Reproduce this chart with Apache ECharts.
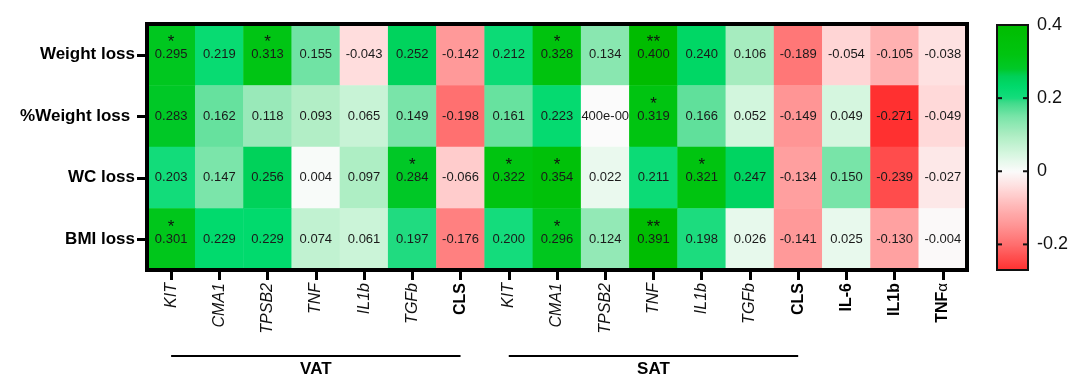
<!DOCTYPE html>
<html><head><meta charset="utf-8">
<script src="https://cdn.jsdelivr.net/npm/echarts@6/dist/echarts.min.js"></script>
<style>html,body{margin:0;padding:0;background:#fff}#c{width:1075px;height:376px}</style>
</head><body><div id="c"></div>
<script>
// ---------------- data ----------------
const rowLabels = ['Weight loss', '%Weight loss ', 'WC loss', 'BMI loss'];
const colLabels = ['KIT','CMA1','TPSB2','TNF','IL1b','TGFb','CLS','KIT','CMA1','TPSB2','TNF','IL1b','TGFb','CLS','IL-6','IL1b','TNFα'];
const colIsGene = [true,true,true,true,true,true,false,true,true,true,true,true,true,false,false,false,false];
const groups = [{ name: 'VAT', from: 0, to: 6 }, { name: 'SAT', from: 7, to: 13 }];

const weightLoss    = [0.295, 0.219, 0.313, 0.155, -0.043, 0.252, -0.142, 0.212, 0.328, 0.134, 0.400, 0.240, 0.106, -0.189, -0.054, -0.105, -0.038];
const pctWeightLoss = [0.283, 0.162, 0.118, 0.093, 0.065, 0.149, -0.198, 0.161, 0.223, 0.0004, 0.319, 0.166, 0.052, -0.149, 0.049, -0.271, -0.049];
const wcLoss        = [0.203, 0.147, 0.256, 0.004, 0.097, 0.284, -0.066, 0.322, 0.354, 0.022, 0.211, 0.321, 0.247, -0.134, 0.150, -0.239, -0.027];
const bmiLoss       = [0.301, 0.229, 0.229, 0.074, 0.061, 0.197, -0.176, 0.200, 0.296, 0.124, 0.391, 0.198, 0.026, -0.141, 0.025, -0.130, -0.004];

const weightLossSig    = ['*','','*','','','','','','*','','**','','','','','',''];
const pctWeightLossSig = ['','','','','','','','','','','*','','','','','',''];
const wcLossSig        = ['','','','','','*','','*','*','','','*','','','','',''];
const bmiLossSig       = ['*','','','','','','','','*','','**','','','','','',''];

const cellTextOverrides = { '1,9': '400e-00' };
const colorbarTicks = [-0.2, 0, 0.2, 0.4];
const colorMin = -0.27, colorMax = 0.4;

// ---------------- style / layout ----------------
const FONT = '"Liberation Sans", Arial, Helvetica, sans-serif';
const GRID = { left: 147, top: 24, width: 820, height: 246 };
const CBAR = { left: 997, top: 25, width: 31, height: 245 };

const colorStops = [
  [-0.27, '#ff3030'], [-0.2, '#ff6e6e'], [-0.15, '#ff9494'], [-0.1, '#ffb4b4'], [-0.05, '#ffd8d8'],
  [0, '#fbfbfb'], [0.05, '#d4f6de'], [0.1, '#acedc2'], [0.15, '#78e4a8'], [0.19, '#3cda88'],
  [0.2, '#14dc7c'], [0.23, '#00da6c'], [0.26, '#00d058'], [0.28, '#00c828'], [0.32, '#00c410'], [0.4, '#00bc00']
];
function hex2rgb(h) { return [1,3,5].map(i => parseInt(h.slice(i, i + 2), 16)); }
function colorAt(v) {
  if (v <= colorStops[0][0]) return colorStops[0][1];
  for (let i = 1; i < colorStops.length; i++) {
    if (v <= colorStops[i][0]) {
      const [v0, c0] = colorStops[i - 1], [v1, c1] = colorStops[i];
      const t = (v - v0) / (v1 - v0);
      const a = hex2rgb(c0), b = hex2rgb(c1);
      return 'rgb(' + a.map((x, k) => Math.round(x + (b[k] - x) * t)).join(',') + ')';
    }
  }
  return colorStops[colorStops.length - 1][1];
}
const N = 135;
const rampColors = [];
for (let i = 0; i < N; i++) rampColors.push(colorAt(colorMin + (colorMax - colorMin) * i / (N - 1)));

const rows = [weightLoss, pctWeightLoss, wcLoss, bmiLoss];
const sigs = [weightLossSig, pctWeightLossSig, wcLossSig, bmiLossSig];
const heatData = [];
rows.forEach((vals, r) => vals.forEach((v, c) => heatData.push({ value: [c, r, v], sig: sigs[r][c] })));

const chart = echarts.init(document.getElementById('c'), null, { renderer: 'canvas' });
chart.setOption({
  animation: false,
  backgroundColor: '#fff',
  textStyle: { fontFamily: FONT },
  grid: [
    { left: GRID.left, top: GRID.top, width: GRID.width, height: GRID.height, show: true,
      borderColor: '#000', borderWidth: 4, backgroundColor: 'rgba(0,0,0,0)', z: 5 },
    { left: CBAR.left, top: CBAR.top, width: CBAR.width, height: CBAR.height, show: true,
      borderColor: '#111', borderWidth: 2, backgroundColor: 'rgba(0,0,0,0)', z: 10 }
  ],
  xAxis: [
    { type: 'category', gridIndex: 0, data: colLabels.map((_, i) => 'c' + i), position: 'bottom',
      axisLine: { show: false },
      axisTick: { show: true, alignWithLabel: true, length: 10, lineStyle: { color: '#000', width: 3 } },
      splitLine: { show: false },
      axisLabel: {
        rotate: 90, margin: 13, interval: 0,
        formatter: (val, i) => {
          const name = colLabels[i];
          if (colIsGene[i]) return '{it|' + name + '}';
          if (name.endsWith('α')) return '{b|' + name.slice(0, -1) + '}{g|α}';
          return '{b|' + name + '}';
        },
        rich: {
          it: { fontSize: 16, fontStyle: 'italic', color: '#111', fontFamily: FONT },
          b: { fontSize: 16, fontWeight: 'bold', color: '#000', fontFamily: FONT },
          g: { fontSize: 15, color: '#000', fontFamily: FONT }
        }
      }
    },
    { type: 'value', gridIndex: 1, show: false, min: 0, max: 1 }
  ],
  yAxis: [
    { type: 'category', gridIndex: 0, data: rowLabels, inverse: true,
      axisLine: { show: false },
      axisTick: { show: true, alignWithLabel: true, length: 10, lineStyle: { color: '#000', width: 3 } },
      splitLine: { show: false },
      axisLabel: { margin: 12, fontSize: 17, fontWeight: 'bold', color: '#000', fontFamily: FONT }
    },
    { type: 'value', gridIndex: 1, min: colorMin, max: colorMax, position: 'right', z: 12,
      axisLine: { show: false }, splitLine: { show: false }, axisTick: { show: false },
      axisLabel: { show: true, margin: 9, fontSize: 18, color: '#111', fontFamily: FONT, customValues: colorbarTicks,
        formatter: v => (Math.abs(v) < 1e-9 ? '0' : v.toFixed(1)) }
    }
  ],
  visualMap: {
    type: 'continuous', seriesIndex: 0, min: colorMin, max: colorMax, calculable: false,
    orient: 'vertical', left: CBAR.left, top: CBAR.top, itemWidth: CBAR.width, itemHeight: CBAR.height,
    padding: 0, text: null, showLabel: false, hoverLink: false, z: 4,
    inRange: { color: rampColors }
  },
  series: [{
    type: 'heatmap', xAxisIndex: 0, yAxisIndex: 0, data: heatData,
    itemStyle: { borderWidth: 0 },
    label: {
      show: true,
      formatter: p => {
        const [c, r, v] = p.data.value;
        const txt = cellTextOverrides[r + ',' + c] || v.toFixed(3);
        const s = p.data.sig;
        return s ? '{s|' + s + '}\n{n|' + txt + '}\n{s| }' : '{n|' + txt + '}';
      },
      rich: {
        n: { fontSize: 13, lineHeight: 15, color: '#1a1a1a', fontFamily: FONT },
        s: { fontSize: 17, lineHeight: 9, color: '#111', fontFamily: FONT }
      }
    },
    emphasis: { disabled: true }
  }]
});

// group brackets under the x axis, and colour-bar tick dashes
const gBottom = GRID.top + GRID.height;
const graphics = [];
groups.forEach(g => {
  const x0 = chart.convertToPixel({ xAxisIndex: 0 }, g.from);
  const x1 = chart.convertToPixel({ xAxisIndex: 0 }, g.to);
  graphics.push({ type: 'line', shape: { x1: x0, y1: gBottom + 86, x2: x1, y2: gBottom + 86 }, style: { stroke: '#000', lineWidth: 2 } });
  graphics.push({ type: 'text', x: (x0 + x1) / 2, y: gBottom + 99, style: { text: g.name, fontSize: 17, fontWeight: 'bold', fill: '#000', fontFamily: FONT, textAlign: 'center', textVerticalAlign: 'middle' } });
});
colorbarTicks.slice(0, 3).forEach(v => {
  const y = chart.convertToPixel({ yAxisIndex: 1 }, v);
  const L = CBAR.left, R = CBAR.left + CBAR.width;
  graphics.push({ type: 'line', z: 20, shape: { x1: L - 1, y1: y, x2: L + 5, y2: y }, style: { stroke: '#111', lineWidth: 2 } });
  graphics.push({ type: 'line', z: 20, shape: { x1: R - 5, y1: y, x2: R + 1, y2: y }, style: { stroke: '#111', lineWidth: 2 } });
});
chart.setOption({ graphic: graphics });
</script></body></html>
